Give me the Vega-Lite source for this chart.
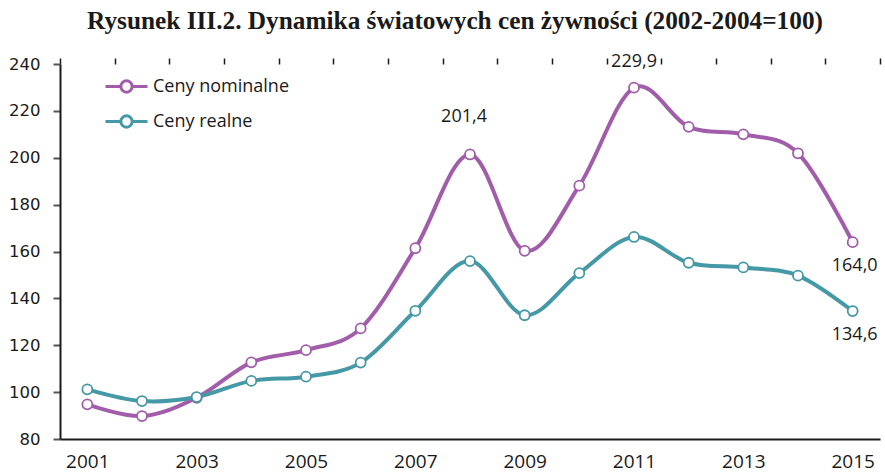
{
  "$schema": "https://vega.github.io/schema/vega-lite/v6.json",
  "width": 820,
  "height": 375,
  "autosize": {"type": "none"},
  "padding": {"left": 60, "top": 64, "right": 5, "bottom": 35},
  "background": "white",
  "title": {
    "text": "Rysunek III.2. Dynamika światowych cen żywności (2002-2004=100)",
    "font": "Liberation Serif",
    "fontSize": 25.3,
    "fontWeight": "bold",
    "color": "#1a1a1a",
    "anchor": "middle",
    "dx": -15,
    "offset": 18
  },
  "config": {
    "view": {"stroke": null},
    "locale": {"number": {"decimal": ",", "thousands": " ", "grouping": [3], "currency": ["", " zł"]}}
  },
  "data": {
    "values": [
      {"year": 2001, "series": "Ceny nominalne", "value": 94.8},
      {"year": 2002, "series": "Ceny nominalne", "value": 89.8},
      {"year": 2003, "series": "Ceny nominalne", "value": 97.6},
      {"year": 2004, "series": "Ceny nominalne", "value": 112.7},
      {"year": 2005, "series": "Ceny nominalne", "value": 117.9},
      {"year": 2006, "series": "Ceny nominalne", "value": 127.2},
      {"year": 2007, "series": "Ceny nominalne", "value": 161.4},
      {"year": 2008, "series": "Ceny nominalne", "value": 201.4},
      {"year": 2009, "series": "Ceny nominalne", "value": 160.3},
      {"year": 2010, "series": "Ceny nominalne", "value": 188.1},
      {"year": 2011, "series": "Ceny nominalne", "value": 229.9},
      {"year": 2012, "series": "Ceny nominalne", "value": 213.2},
      {"year": 2013, "series": "Ceny nominalne", "value": 210.0},
      {"year": 2014, "series": "Ceny nominalne", "value": 201.9},
      {"year": 2015, "series": "Ceny nominalne", "value": 164.0},
      {"year": 2001, "series": "Ceny realne", "value": 101.2},
      {"year": 2002, "series": "Ceny realne", "value": 96.2},
      {"year": 2003, "series": "Ceny realne", "value": 97.9},
      {"year": 2004, "series": "Ceny realne", "value": 104.8},
      {"year": 2005, "series": "Ceny realne", "value": 106.6},
      {"year": 2006, "series": "Ceny realne", "value": 112.6},
      {"year": 2007, "series": "Ceny realne", "value": 134.7},
      {"year": 2008, "series": "Ceny realne", "value": 155.9},
      {"year": 2009, "series": "Ceny realne", "value": 132.8},
      {"year": 2010, "series": "Ceny realne", "value": 150.8},
      {"year": 2011, "series": "Ceny realne", "value": 166.2},
      {"year": 2012, "series": "Ceny realne", "value": 155.2},
      {"year": 2013, "series": "Ceny realne", "value": 153.2},
      {"year": 2014, "series": "Ceny realne", "value": 149.7},
      {"year": 2015, "series": "Ceny realne", "value": 134.6}
    ]
  },
  "layer": [
    {
      "mark": {"type": "line", "interpolate": "cardinal", "strokeWidth": 4, "strokeCap": "round"},
      "encoding": {
        "x": {
          "field": "year", "type": "quantitative",
          "scale": {"domain": [2000.5, 2015.5], "nice": false, "zero": false},
          "axis": {
            "title": null,
            "values": [2001, 2003, 2005, 2007, 2009, 2011, 2013, 2015],
            "format": "d",
            "grid": false,
            "ticks": false,
            "domain": true,
            "domainColor": "#1a1a1a",
            "domainWidth": 2,
            "labelFont": "Open Sans",
            "labelFontSize": 19,
            "labelColor": "#1a1a1a",
            "labelPadding": 13,
            "labelFlush": false
          }
        },
        "y": {
          "field": "value", "type": "quantitative",
          "scale": {"domain": [80, 240], "nice": false, "zero": false},
          "axis": {
            "title": null,
            "values": [80, 100, 120, 140, 160, 180, 200, 220, 240],
            "grid": false,
            "domainColor": "#1a1a1a",
            "domainWidth": 2,
            "tickColor": "#555555",
            "tickWidth": 2,
            "tickSize": 7,
            "labelFont": "DejaVu Sans",
            "labelFontSize": 16.5,
            "labelColor": "#1a1a1a",
            "labelPadding": 13
          }
        },
        "color": {
          "field": "series", "type": "nominal",
          "scale": {"domain": ["Ceny nominalne", "Ceny realne"], "range": ["#A25DAA", "#4598A5"]},
          "legend": {
            "title": null,
            "orient": "none",
            "legendX": 44,
            "legendY": 0,
            "symbolType": "M-1,0L-0.27,0M0.27,0L1,0M0.27,0A0.27,0.27 0 1 1 -0.27,0A0.27,0.27 0 1 1 0.27,0Z",
            "symbolSize": 1764,
            "symbolStrokeWidth": 3,
            "symbolFillColor": "white",
            "labelFont": "Open Sans",
            "labelFontSize": 18,
            "labelColor": "#1a1a1a",
            "labelOffset": 4,
            "rowPadding": -9,
            "encode": {"symbols": {"update": {"fill": {"value": "white"}, "strokeWidth": {"value": 3}, "opacity": {"value": 1}}}}
          }
        }
      }
    },
    {
      "mark": {"type": "point", "shape": "circle", "filled": false, "fill": "white", "fillOpacity": 1, "opacity": 1, "size": 100, "strokeWidth": 1.8},
      "encoding": {
        "x": {
          "field": "year", "type": "quantitative",
          "axis": {
            "title": null,
            "values": [2000.5, 2001.5, 2002.5, 2003.5, 2004.5, 2005.5, 2006.5, 2007.5, 2008.5, 2009.5, 2010.5, 2011.5, 2012.5, 2013.5, 2014.5, 2015.5],
            "labels": false,
            "domain": false,
            "grid": false,
            "ticks": true,
            "tickColor": "#1a1a1a",
            "tickWidth": 1.5,
            "tickSize": 6
          }
        },
        "y": {"field": "value", "type": "quantitative"},
        "color": {"field": "series", "type": "nominal"}
      }
    },
    {
      "transform": [{"filter": "datum.series === 'Ceny nominalne' && datum.year === 2008"}],
      "mark": {"type": "text", "font": "Open Sans", "fontSize": 18, "color": "#1a1a1a", "dy": -37, "dx": -6},
      "encoding": {
        "x": {"field": "year", "type": "quantitative", "axis": null},
        "y": {"field": "value", "type": "quantitative"},
        "text": {"field": "value", "type": "quantitative", "format": ".1f"}
      }
    },
    {
      "transform": [{"filter": "datum.series === 'Ceny nominalne' && datum.year === 2011"}],
      "mark": {"type": "text", "font": "Open Sans", "fontSize": 18, "color": "#1a1a1a", "dy": -26},
      "encoding": {
        "x": {"field": "year", "type": "quantitative", "axis": null},
        "y": {"field": "value", "type": "quantitative"},
        "text": {"field": "value", "type": "quantitative", "format": ".1f"}
      }
    },
    {
      "transform": [{"filter": "datum.year === 2015"}],
      "mark": {"type": "text", "font": "Open Sans", "fontSize": 18, "color": "#1a1a1a", "dy": 24, "dx": 2},
      "encoding": {
        "x": {"field": "year", "type": "quantitative", "axis": null},
        "y": {"field": "value", "type": "quantitative"},
        "text": {"field": "value", "type": "quantitative", "format": ".1f"}
      }
    }
  ],
  "resolve": {"axis": {"x": "independent"}}
}
